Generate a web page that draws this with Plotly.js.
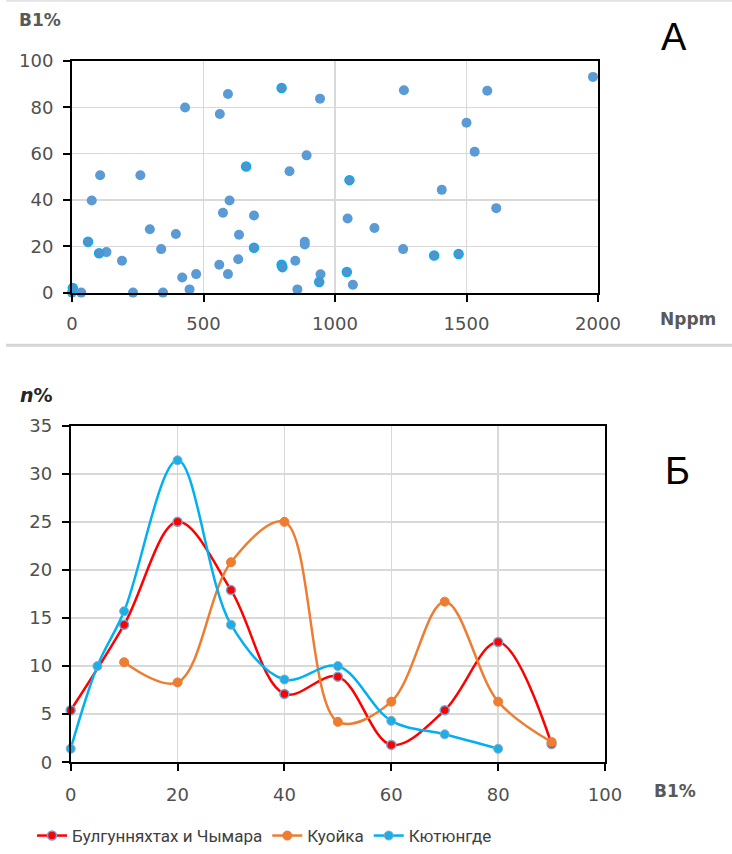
<!DOCTYPE html>
<html>
<head>
<meta charset="utf-8">
<script src="https://cdn.plot.ly/plotly-3.0.1.min.js"></script>
<style>html,body{margin:0;padding:0;background:#fff;}#chart{width:732px;height:854px;}</style>
</head>
<body>
<div id="chart"></div>
<script>
// ---- Panel A: scatter B1% vs N ppm ----
const aBlueN = [0,35,75,107,131,190,232,260,296,339,346,395,430,419,447,472,562,593,560,574,599,593,635,632,692,827,892,849,885,885,857,943,945,1048,1068,1150,1262,1259,1406,1500,1531,1579,1613,1981];
const aBlueB = [0,0,39.8,50.7,17.5,13.8,0,50.7,27.4,18.8,0,25.3,80,6.5,1.4,8,77.2,85.8,12,34.5,39.8,8,25,14.4,33.3,52.4,59.3,13.8,22,20.8,1.4,83.8,7.9,32,3.4,27.9,87.4,18.8,44.4,73.4,60.9,87.2,36.5,93.2];
const aCyanN = [3,61,103,662,692,797,797,800,940,1055,1045,1377,1470];
const aCyanB = [2,22,17,54.5,19.4,88.4,12,11,4.6,48.6,8.9,16,16.7];

// ---- Panel Б: distribution n% vs B1% ----
const bNames = ['Булгунняхтах и Чымара','Куойка','Кютюнгде'];
const redX = [0,10,20,30,40,50,60,70,80,90];
const redY = [5.4,14.3,25,17.9,7.1,8.9,1.8,5.4,12.5,1.9];
const orangeX = [10,20,30,40,50,60,70,80,90];
const orangeY = [10.4,8.3,20.8,25,4.2,6.3,16.7,6.3,2.1];
const cyanX = [0,5,10,20,30,40,50,60,70,80];
const cyanY = [1.4,10,15.7,31.4,14.3,8.6,10,4.3,2.9,1.4];

const W = 732, H = 854;
const px = v => v / W;
const py = v => 1 - v / H;
const tickFont = {family: 'DejaVu Sans', size: 18, color: '#505050'};

const traces = [
  {x: aBlueN, y: aBlueB, type: 'scatter', mode: 'markers', xaxis: 'x', yaxis: 'y', showlegend: false, cliponaxis: false,
   marker: {size: 10, color: '#5B9BD5'}},
  {x: aCyanN, y: aCyanB, type: 'scatter', mode: 'markers', xaxis: 'x', yaxis: 'y', showlegend: false, cliponaxis: false,
   marker: {size: 9, color: '#5B8FC8', line: {color: '#00B0F0', width: 1.5}}},
  {x: redX, y: redY, name: bNames[0], type: 'scatter', mode: 'lines+markers', xaxis: 'x2', yaxis: 'y2', cliponaxis: false,
   line: {color: '#FF0000', width: 2.5, shape: 'spline', smoothing: 1},
   marker: {size: 9, color: '#FF0000', line: {color: '#6FA8DC', width: 1.5}}},
  {x: orangeX, y: orangeY, name: bNames[1], type: 'scatter', mode: 'lines+markers', xaxis: 'x2', yaxis: 'y2', cliponaxis: false,
   line: {color: '#ED7D31', width: 2.5, shape: 'spline', smoothing: 1},
   marker: {size: 9, color: '#ED7D31', line: {color: '#ED7D31', width: 1}}},
  {x: cyanX, y: cyanY, name: bNames[2], type: 'scatter', mode: 'lines+markers', xaxis: 'x2', yaxis: 'y2', cliponaxis: false,
   line: {color: '#00B0F0', width: 2.5, shape: 'spline', smoothing: 1},
   marker: {size: 9, color: '#1CAEE8', line: {color: '#8FA9BF', width: 1}}}
];

const axisCommon = {
  showline: true, linecolor: '#000', linewidth: 2, mirror: true,
  ticks: 'outside', ticklen: 7, tickwidth: 2, tickcolor: '#000',
  showgrid: true, gridcolor: '#D9D9D9', gridwidth: 1.5, zeroline: false,
  tickfont: tickFont, fixedrange: true
};

const layout = {
  width: W, height: H,
  margin: {l: 0, r: 0, t: 0, b: 0},
  paper_bgcolor: '#fff', plot_bgcolor: '#fff',
  xaxis: Object.assign({}, axisCommon, {domain: [px(72), px(598)], range: [0, 2000], tickvals: [0,500,1000,1500,2000], anchor: 'y', ticklabelstandoff: 7}),
  yaxis: Object.assign({}, axisCommon, {domain: [py(293.3), py(61.3)], range: [0, 100], tickvals: [0,20,40,60,80,100], anchor: 'x', ticklabelstandoff: 6}),
  xaxis2: Object.assign({}, axisCommon, {domain: [px(70.7), px(605)], range: [0, 100], tickvals: [0,20,40,60,80,100], anchor: 'y2', ticklabelstandoff: 8}),
  yaxis2: Object.assign({}, axisCommon, {domain: [py(764), py(426.7)], range: [0, 35], tickvals: [0,5,10,15,20,25,30,35], anchor: 'x2', ticklabelstandoff: 6}),
  showlegend: true,
  legend: {orientation: 'h', x: px(32), xanchor: 'left', y: py(838), yanchor: 'middle',
           font: {family: 'Roboto', size: 17, color: '#404040'}, bgcolor: 'rgba(0,0,0,0)', itemwidth: 30, tracegroupgap: 0},
  shapes: [
    {type: 'line', xref: 'paper', yref: 'paper', x0: px(6), x1: 1, y0: py(346), y1: py(346), line: {color: '#D6D6D6', width: 3}},
    {type: 'line', xref: 'paper', yref: 'paper', x0: px(6), x1: 1, y0: py(0.8), y1: py(0.8), line: {color: '#E3E3E3', width: 2}}
  ],
  annotations: [
    {text: 'B1%', xref: 'paper', yref: 'paper', x: px(40), y: py(20), xanchor: 'center', yanchor: 'middle', showarrow: false,
     font: {family: 'DejaVu Sans', size: 17, color: '#595959', weight: 'bold'}},
    {text: 'Nppm', xref: 'paper', yref: 'paper', x: px(688), y: py(320), xanchor: 'center', yanchor: 'middle', showarrow: false,
     font: {family: 'DejaVu Sans', size: 17, color: '#595959', weight: 'bold'}},
    {text: 'A', xref: 'paper', yref: 'paper', x: px(674), y: py(37), xanchor: 'center', yanchor: 'middle', showarrow: false,
     font: {family: 'Liberation Sans', size: 38, color: '#000'}},
    {text: '<i>n</i>%', xref: 'paper', yref: 'paper', x: px(36), y: py(396), xanchor: 'center', yanchor: 'middle', showarrow: false,
     font: {family: 'DejaVu Sans', size: 19, color: '#262626', weight: 'bold'}},
    {text: 'Б', xref: 'paper', yref: 'paper', x: px(677), y: py(472), xanchor: 'center', yanchor: 'middle', showarrow: false,
     font: {family: 'Liberation Sans', size: 38, color: '#000'}},
    {text: 'B1%', xref: 'paper', yref: 'paper', x: px(675), y: py(793), xanchor: 'center', yanchor: 'middle', showarrow: false,
     font: {family: 'DejaVu Sans', size: 17, color: '#595959', weight: 'bold'}}
  ]
};

Plotly.newPlot('chart', traces, layout, {displayModeBar: false, staticPlot: true});
</script>
</body>
</html>
